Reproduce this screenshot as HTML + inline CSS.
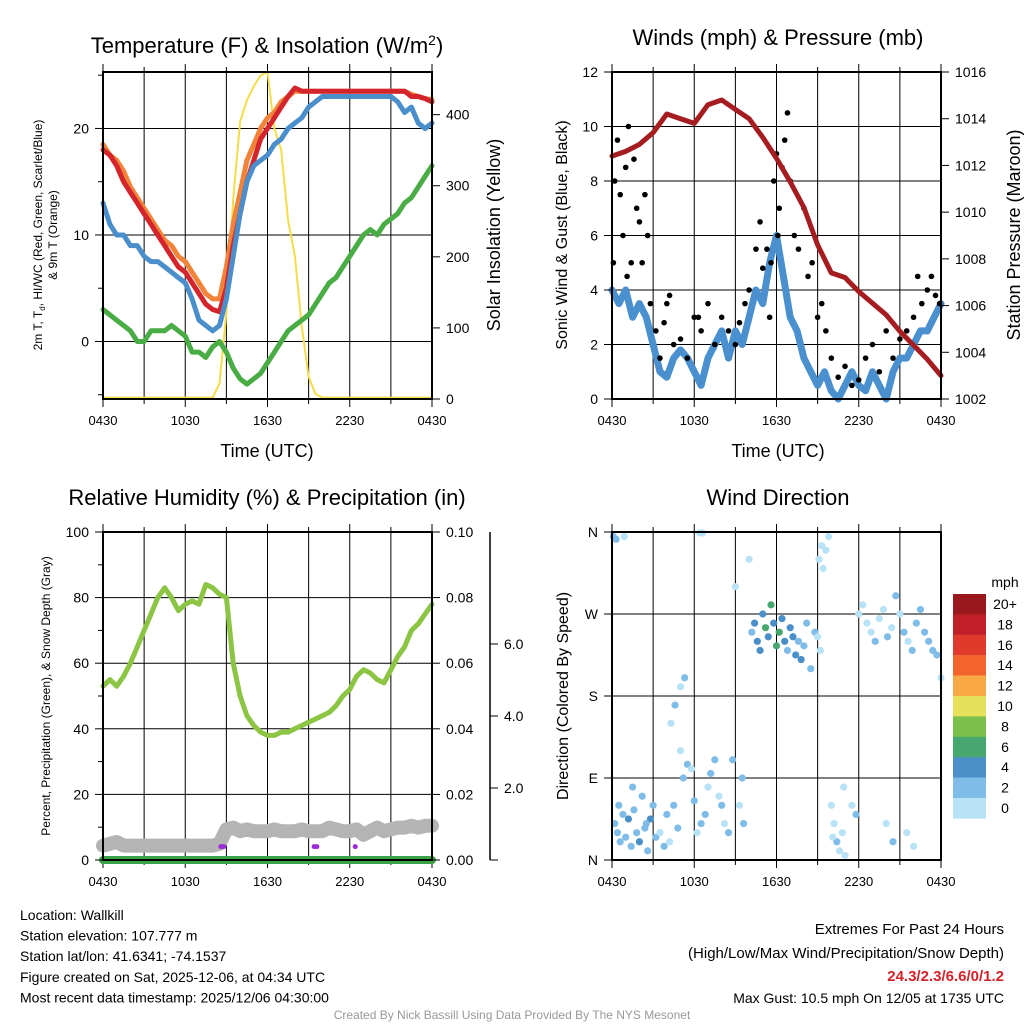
<!DOCTYPE html>
<html><head><meta charset="utf-8"><style>
body{margin:0;background:#fff}
svg{display:block;font-family:"Liberation Sans",sans-serif}
</style></head><body>
<svg id="chart" width="1024" height="1024" viewBox="0 0 1024 1024" xmlns="http://www.w3.org/2000/svg"></svg>
<script>
// ---------- DATA ----------
const halfHours = Array.from({length:49},(_,i)=>i*0.5);
const fullHours = Array.from({length:25},(_,i)=>i);
const xTickLabels = ["0430","1030","1630","2230","0430"];
const tempRed = [18,17.5,16.5,15,14,13,12,11,10,9,8,7,6.5,5.5,4.5,3.5,3,2.8,5,9,12,15,17,19,20,21,22,23,23.8,23.5,23.5,23.5,23.5,23.5,23.5,23.5,23.5,23.5,23.5,23.5,23.5,23.5,23.5,23.5,23.5,23,23,22.8,22.5];
const tempOrange = [18.5,17.5,17,16,14.5,13.5,12.5,11.5,10.5,9.5,9,8,7.5,6.5,5.5,4.5,4,4,7,11,14,17,18.5,20,21,21.5,22.5,23,23.5,23.5,23.5,23.5,23.5,23.5,23.5,23.5,23.5,23.5,23.5,23.5,23.5,23.5,23.5,23.5,23.5,23.2,23,22.8,22.7];
const tempBlue = [13,11,10,10,9,9,8,7.5,7.5,7,6.5,6,5.5,4,2,1.5,1,1.5,4,8,12,15,16.5,17,17.5,18.5,19,20,20.5,21,22,22.5,23,23,23,23,23,23,23,23,23,23,23,22.5,21.5,22,20.5,20,20.5];
const tempGreen = [3,2.5,2,1.5,1,0,0,1,1,1,1.5,1,0.5,-1,-1,-1.5,-0.5,0,-1,-2.5,-3.5,-4,-3.5,-3,-2,-1,0,1,1.5,2,2.5,3.5,4.5,5.5,6,7,8,9,10,10.5,10,11,11.5,12,13,13.5,14.5,15.5,16.5];
const solar = [0,0,0,0,0,0,0,0,0,0,0,0,0,0,0,0,0,20,120,280,390,420,440,455,460,380,350,250,200,100,30,5,0,0,0,0,0,0,0,0,0,0,0,0,0,0,0,0,0];
const pressure = [1012.4,1012.6,1012.9,1013.4,1014.2,1014.0,1013.8,1014.6,1014.8,1014.4,1014.0,1013.2,1012.3,1011.3,1010.2,1008.6,1007.4,1007.2,1006.6,1006.1,1005.6,1004.9,1004.3,1003.7,1003.0];
const windSpeed = [4,3.5,4,3,3.5,3,2,1,0.8,1.5,1.8,1.5,1,0.5,1.5,2,2.5,1.5,2.5,2,3,4,3.5,5,6,4.5,3,2.5,1.5,1,0.5,1,0.3,0,0.5,1,0.5,0.3,1,0.5,0,1,1.5,1.5,2,2.5,2.5,3,3.5];
const gustHours = [0.2,0.4,0.6,0.8,1.0,1.2,1.4,1.6,1.8,2,2.2,2.4,2.6,2.8,3.2,3.5,4,4.2,4.5,5,5.5,6,6.5,7,7.5,8,8.5,9,9.3,9.7,10,10.5,10.8,11,11.3,11.6,11.8,12,12.2,12.4,12.6,12.8,13,13.3,13.6,14,14.3,14.6,15,15.3,15.6,16,16.5,17,17.5,18,18.5,19,19.5,20,20.5,21,21.5,22,22.3,22.6,23,23.3,23.6,23.9,11.5,12.1,6.3,3.8,0.1,1.1];
const gustValues = [8,9.5,7.5,6,8.5,10,5,8.8,7,6.5,5,7.5,6,3.5,2.5,1.5,3.5,3.8,2,2.2,1.5,3,2.5,3.5,2,3,2.5,2,2.8,3.5,4,5.5,6.5,4.8,5.5,5,8,9,7,8.5,9.5,10.5,8,6,5.5,7,4.5,5,3,3.5,2.5,1.5,0.8,1.2,0.5,0.7,1.5,2,1,2.5,1.5,2.2,2.5,3,4.5,3.5,4,4.5,3.8,3.5,3,6,3,2.8,5,4.5];
const rh = [53,55,53,56,60,65,70,75,80,83,80,76,78,79,78,84,83,81,80,60,50,44,41,39,38,38,39,39,40,41,42,43,44,45,47,50,52,56,58,57,55,54,58,62,65,70,72,75,78];
const snowDepth = [0.4,0.45,0.5,0.4,0.4,0.4,0.4,0.4,0.4,0.4,0.4,0.4,0.4,0.4,0.4,0.4,0.4,0.45,0.85,0.9,0.8,0.85,0.8,0.8,0.8,0.85,0.8,0.8,0.8,0.85,0.8,0.8,0.8,0.9,0.85,0.8,0.8,0.85,0.7,0.8,0.9,0.8,0.85,0.9,0.9,0.95,0.9,0.95,0.95];
const precip = [0,0,0,0,0,0,0,0,0,0,0,0,0,0,0,0,0,0,0,0,0,0,0,0,0,0,0,0,0,0,0,0,0,0,0,0,0,0,0,0,0,0,0,0,0,0,0,0,0];
const purpleHours = [8.6,8.8,15.4,15.6,18.4];
const dirHours = [0.1,0.2,0.4,0.6,0.8,0.3,0.5,1,1.2,1.4,1.6,1.8,2,2.2,2.4,2.6,2.8,3,3.2,0.9,1.5,2.5,3.5,3.8,4,4.2,4.5,4.8,5,5.2,5.5,5.8,6,6.2,6.5,6.8,7,7.2,7.5,7.8,8,8.2,8.5,4.3,4.6,5,5.3,6.4,6.6,9,9.3,9.6,10,8.8,9.5,10.2,10.4,10.6,10.8,11,11.2,11.4,11.6,11.8,12,12.2,12.4,12.6,12.8,13,13.2,13.4,13.6,13.8,14,14.2,14.5,14.8,15,15.2,15.4,15.6,15.8,16,16.2,16.4,16.6,16.8,17,15.1,15.3,16.1,18,18.3,18.6,18.9,19.2,19.5,19.8,20.1,20.4,20.7,21,21.3,21.6,21.9,22.2,22.5,22.8,23.1,23.4,23.7,24,20,20.5,21.5,22,17.5,17.8,16.9];
const dirValues = [355,40,30,20,50,352,60,25,45,15,55,30,20,70,35,10,45,60,25,355,80,40,30,15,50,20,60,35,120,90,105,100,65,30,40,50,80,95,110,70,60,40,30,150,170,190,200,360,365,300,60,40,330,110,90,250,260,240,230,270,255,245,280,260,235,250,265,240,230,255,245,225,240,220,235,260,210,250,245,230,320,340,355,60,40,20,10,30,5,330,345,25,270,280,260,250,240,265,275,245,255,290,270,250,240,230,260,275,250,240,230,225,200,40,20,30,15,60,50,80];
const dirSpeeds = [3,3,2,3,3,2,2,3,4,3,2,3,4,3,3,2,4,2,3,1,2,3,1,2,3,1,2,3,1,2,3,1,2,1,3,2,1,2,3,1,2,1,2,1,2,1,2,1,1,1,1,2,1,2,3,3,4,4,4,5,6,4,7,5,6,7,4,5,3,4,5,4,3,4,3,2,3,2,1,1,1,1,1,1,1,2,1,1,1,1,1,1,1,1,1,1,2,1,1,2,1,2,1,2,1,2,2,3,2,2,2,3,1,1,2,1,1,1,2,1,2];
const cbLabels = ["20+","18","16","14","12","10","8","6","4","2","0"];
const cbColors = ["#98181d","#c01f27","#df3a2b","#f2642b","#f8a946","#e6e05a","#7cc04c","#47a86f","#4a8fc8","#7fbde8","#b8e2f6"];
// ---------- HELPERS ----------
const NS="http://www.w3.org/2000/svg";
const svg=document.getElementById('chart');
function el(tag,attrs,parent){const e=document.createElementNS(NS,tag);for(const k in attrs)e.setAttribute(k,attrs[k]);(parent||svg).appendChild(e);return e;}
function txt(s,x,y,size,anchor,parent,extra){const t=el('text',Object.assign({x:x,y:y,'font-size':size,'text-anchor':anchor||'middle',fill:'#000'},extra||{}),parent);t.textContent=s;return t;}
function mkX(p){return h=>p.x0+h*(p.x1-p.x0)/24;}
function mkY(p,lo,hi){return v=>p.y1-(v-lo)*(p.y1-p.y0)/(hi-lo);}
function pathFrom(xs,ys,fx,fy){return xs.map((h,i)=>(i?'L':'M')+fx(h).toFixed(1)+','+fy(ys[i]).toFixed(1)).join('');}
function speedColor(s){const idx=Math.min(10,Math.floor(s/2));return cbColors[10-idx];}

function frame(p,name,gridX,gridYvals,fy){
  const g=el('g',{});
  
  
  const fx=mkX(p);
  for(let h=3;h<24;h+=3){const l=el('line',{x1:fx(h),x2:fx(h),y1:p.y0,y2:p.y1,stroke:'#000','stroke-width':1},g);}
  gridYvals.forEach(v=>{const l=el('line',{x1:p.x0,x2:p.x1,y1:fy(v),y2:fy(v),stroke:'#000','stroke-width':1},g);});
  for(let h=0;h<=24;h+=3){const big=h%6===0;
    const t1=el('line',{x1:fx(h),x2:fx(h),y1:p.y1,y2:p.y1+(big?8:5),stroke:'#000'},g);
    const t2=el('line',{x1:fx(h),x2:fx(h),y1:p.y0,y2:p.y0-(big?8:5),stroke:'#000'},g);}
  xTickLabels.forEach((s,i)=>{const t=txt(s,fx(i*6),p.y1+26,13,'middle',g);});
  return g;
}
function border(p,name){const r=el('rect',{x:p.x0,y:p.y0,width:p.x1-p.x0,height:p.y1-p.y0,fill:'none',stroke:'#000','stroke-width':2});}
function yAxis(p,x,dir,vals,labels,minor,fy,name){
  const g=el('g',{});
  vals.forEach((v,i)=>{const l=el('line',{x1:x,x2:x+dir*8,y1:fy(v),y2:fy(v),stroke:'#000'},g);
    const t=txt(labels[i],x+dir*14,fy(v)+5,14,dir<0?'end':'start',g);});
  minor.forEach(v=>{const l=el('line',{x1:x,x2:x+dir*5,y1:fy(v),y2:fy(v),stroke:'#000'},g);});
}
function line(d,color,w,name,parent){const p=el('path',{d:d,fill:'none',stroke:color,'stroke-width':w,'stroke-linejoin':'round','stroke-linecap':'round'},parent);return p;}

// ---------- PANEL 1 ----------
const P1={x0:103,x1:432,y0:72,y1:399};
const x1f=mkX(P1), y1t=mkY(P1,-5.4,25.3), y1s=mkY(P1,-2,460);
frame(P1,'temperature-panel',true,[0,10,20],y1t);
line(pathFrom(halfHours,solar,x1f,y1s),'#f5dc4a',2,'solar-insolation-line');
line(pathFrom(halfHours,tempGreen,x1f,y1t),'#4aac45',5,'dewpoint-line');
line(pathFrom(halfHours,tempOrange,x1f,y1t),'#f2843a',5,'temp-9m-line');
line(pathFrom(halfHours,tempRed,x1f,y1t),'#d4252c',5,'temp-2m-line');
line(pathFrom(halfHours,tempBlue,x1f,y1t),'#4a8fcb',5,'windchill-line');
border(P1,'temperature-panel');
yAxis(P1,P1.x0,-1,[0,10,20],["0","10","20"],[-5,5,15,25],y1t,'temperature-y-axis');
yAxis(P1,P1.x1,1,[0,100,200,300,400],["0","100","200","300","400"],[],mkY(P1,0,460),'solar-y-axis');
let t;
t=el('text',{x:267,y:53,'font-size':22,'text-anchor':'middle'});t.innerHTML='Temperature (F) &amp; Insolation (W/m<tspan dy="-8" font-size="14">2</tspan><tspan dy="8">)</tspan>';

t=txt('Time (UTC)',267,457,18);
t=el('text',{x:0,y:0,'font-size':12,'text-anchor':'middle',transform:'translate(42,235) rotate(-90)'});t.innerHTML='2m T, T<tspan dy="3" font-size="8">d</tspan><tspan dy="-3">, HI/WC (Red, Green, Scarlet/Blue)</tspan>';

t=txt('& 9m T (Orange)',0,0,12,'middle',null,{transform:'translate(57,235) rotate(-90)'});
t=txt('Solar Insolation (Yellow)',0,0,18,'middle',null,{transform:'translate(500,235) rotate(-90)'});

// ---------- PANEL 2 ----------
const P2={x0:612,x1:941,y0:72,y1:399};
const x2f=mkX(P2), y2w=mkY(P2,0,12), y2p=mkY(P2,1002,1016);
frame(P2,'winds-panel',true,[2,4,6,8,10],y2w);
line(pathFrom(halfHours,windSpeed,x2f,y2w),'#4a90cf',7,'sonic-wind-line');
const gg=el('g',{});
gustHours.forEach((h,i)=>{const c=el('circle',{cx:x2f(h),cy:y2w(gustValues[i]),r:2.8,fill:'#000'},gg);
  
  });
line(pathFrom(fullHours,pressure,x2f,y2p),'#a51d20',5,'pressure-line');
border(P2,'winds-panel');
yAxis(P2,P2.x0,-1,[0,2,4,6,8,10,12],["0","2","4","6","8","10","12"],[],y2w,'wind-y-axis');
yAxis(P2,P2.x1,1,[1002,1004,1006,1008,1010,1012,1014,1016],["1002","1004","1006","1008","1010","1012","1014","1016"],[],y2p,'pressure-y-axis');
t=txt('Winds (mph) & Pressure (mb)',778,45,22);
t=txt('Time (UTC)',778,457,18);
t=txt('Sonic Wind & Gust (Blue, Black)',0,0,16,'middle',null,{transform:'translate(567,235) rotate(-90)'});
t=txt('Station Pressure (Maroon)',0,0,18,'middle',null,{transform:'translate(1020,235) rotate(-90)'});

// ---------- PANEL 3 ----------
const P3={x0:103,x1:432,y0:532,y1:860};
const x3f=mkX(P3), y3r=mkY(P3,0,100), y3p=mkY(P3,0,0.1), y3s=mkY(P3,0,9.11);
frame(P3,'humidity-panel',true,[20,40,60,80],y3r);
line(pathFrom(halfHours,snowDepth,x3f,y3s),'#b4b4b4',14,'snow-depth-line');
line(pathFrom(halfHours,rh,x3f,y3r),'#8cc444',5,'relative-humidity-line');
line(pathFrom(halfHours,precip,x3f,y3p),'#3aa348',8,'precipitation-line');
purpleHours.forEach(h=>{const c=el('circle',{cx:x3f(h),cy:y3s(0.4)+1,r:2.5,fill:'#9b2bd6'});
  
  });
border(P3,'humidity-panel');
yAxis(P3,P3.x0,-1,[0,20,40,60,80,100],["0","20","40","60","80","100"],[10,30,50,70,90],y3r,'humidity-y-axis');
yAxis(P3,P3.x1,1,[0,0.02,0.04,0.06,0.08,0.1],["0.00","0.02","0.04","0.06","0.08","0.10"],[],y3p,'precip-y-axis');
let sa=el('line',{x1:490,x2:490,y1:532,y2:860,stroke:'#000','stroke-width':1.5});
yAxis(P3,490,1,[2,4,6],["2.0","4.0","6.0"],[],y3s,'snow-y-axis');
let st=el('line',{x1:490,x2:498,y1:860,y2:860,stroke:'#000'});
t=txt('Relative Humidity (%) & Precipitation (in)',267,505,22);
t=txt('Percent, Precipitation (Green), & Snow Depth (Gray)',0,0,12,'middle',null,{transform:'translate(50,696) rotate(-90)'});

// ---------- PANEL 4 ----------
const P4={x0:612,x1:941,y0:532,y1:860};
const x4f=mkX(P4), y4d=mkY(P4,0,360);
frame(P4,'direction-panel',true,[90,180,270],y4d);
const dg=el('g',{});
dirHours.forEach((h,i)=>{const c=el('circle',{cx:x4f(h),cy:y4d(Math.min(dirValues[i],359)),r:3.6,fill:speedColor(dirSpeeds[i])},dg);
  
  });
border(P4,'direction-panel');
yAxis(P4,P4.x0,-1,[0,90,180,270,360],["N","E","S","W","N"],[],y4d,'direction-y-axis');
t=txt('Wind Direction',778,505,22);
t=txt('Direction (Colored By Speed)',0,0,16,'middle',null,{transform:'translate(568,696) rotate(-90)'});
// colorbar
const cb=el('g',{});
cbColors.forEach((c,i)=>{const r=el('rect',{x:953,y:594+i*20.4,width:33,height:20.6,fill:c},cb);
  const l=txt(cbLabels[i],1005,594+i*20.4+15,14,'middle',cb);});
t=txt('mph',1005,587,14);

// ---------- FOOTER ----------
const info=["Location: Wallkill","Station elevation: 107.777 m","Station lat/lon: 41.6341; -74.1537","Figure created on Sat, 2025-12-06, at 04:34 UTC","Most recent data timestamp: 2025/12/06 04:30:00"];
info.forEach((s,i)=>{const tt=txt(s,20,920+i*20.6,14,'start');});
t=txt('Extremes For Past 24 Hours',1004,934,15,'end');
t=txt('(High/Low/Max Wind/Precipitation/Snow Depth)',1004,958,15,'end');
t=txt('24.3/2.3/6.6/0/1.2',1004,981,15,'end',null,{fill:'#d2232a','font-weight':'bold'});
t=txt('Max Gust: 10.5 mph On 12/05 at 1735 UTC',1004,1003,14,'end');
t=txt('Created By Nick Bassill Using Data Provided By The NYS Mesonet',512,1019,12,'middle',null,{fill:'#999'});
</script>
</body></html>
